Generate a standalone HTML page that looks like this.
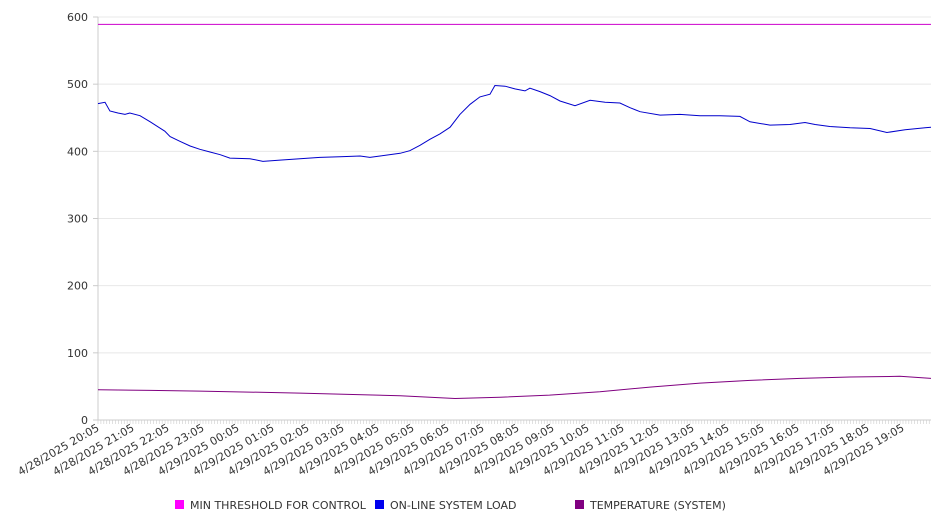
<!DOCTYPE html>
<html><head><meta charset="utf-8"><style>
body{margin:0;background:#fff;width:946px;height:526px;overflow:hidden;font-family:"DejaVu Sans","Liberation Sans",sans-serif;}
</style></head><body>
<svg id="chart" width="946" height="526" xmlns="http://www.w3.org/2000/svg" style="font-family:'DejaVu Sans','Liberation Sans',sans-serif"></svg>
<script>
const xTickLabels=["4/28/2025 20:05","4/28/2025 21:05","4/28/2025 22:05","4/28/2025 23:05","4/29/2025 00:05","4/29/2025 01:05","4/29/2025 02:05","4/29/2025 03:05","4/29/2025 04:05","4/29/2025 05:05","4/29/2025 06:05","4/29/2025 07:05","4/29/2025 08:05","4/29/2025 09:05","4/29/2025 10:05","4/29/2025 11:05","4/29/2025 12:05","4/29/2025 13:05","4/29/2025 14:05","4/29/2025 15:05","4/29/2025 16:05","4/29/2025 17:05","4/29/2025 18:05","4/29/2025 19:05"];
const yTicks=[0,100,200,300,400,500,600];
const thresholdHours=[0,23.8];
const thresholdValues=[589,589];
const loadHours=[0,0.2,0.34,0.57,0.77,0.91,1.2,1.49,1.91,2.06,2.34,2.63,2.91,3.2,3.49,3.77,4.34,4.71,5.2,5.77,6.34,6.91,7.49,7.77,8.06,8.63,8.91,9.2,9.49,9.77,10.06,10.34,10.63,10.91,11.2,11.34,11.63,11.91,12.2,12.34,12.63,12.91,13.2,13.63,14.06,14.49,14.91,15.2,15.49,16.06,16.63,17.2,17.77,18.34,18.63,19.2,19.77,20.2,20.49,20.91,21.49,22.06,22.54,23.06,23.63,23.8];
const loadValues=[471,473,460,457,455,457,453,444,430,422,415,408,403,399,395,390,389,385,387,389,391,392,393,391,393,397,401,409,418,426,436,455,470,481,485,498,497,493,490,494,489,483,475,468,476,473,472,465,459,454,455,453,453,452,444,439,440,443,440,437,435,434,428,432,435,436];
const tempHours=[0,1.5,2.91,5.77,8.63,10.2,11.49,12.9,14.34,15.77,17.2,18.63,20.06,21.49,22.91,23.8];
const tempValues=[45,44,43,40,36,32,34,37,42,49,55,59,62,64,65,62];

const svg=document.getElementById('chart');
const NS='http://www.w3.org/2000/svg';
const X0=98,X1=931,Y0=420,Y1=17,HMAX=23.8,VMAX=600;
const xs=h=>X0+(X1-X0)*h/HMAX;
const ys=v=>Y0-(Y0-Y1)*v/VMAX;
function mk(tag,attrs,parent){const e=document.createElementNS(NS,tag);for(const k in attrs)e.setAttribute(k,attrs[k]);(parent||svg).appendChild(e);return e;}

const grid=mk('g',{});


yTicks.forEach(v=>{
  if(v>0){const l=mk('line',{x1:X0,x2:X1,y1:ys(v),y2:ys(v),stroke:'#e8e8e8','stroke-width':1},grid);
  
  }
  const t=mk('line',{x1:X0-5,x2:X0,y1:ys(v),y2:ys(v),stroke:'#ccc'});
  
  
  const tx=mk('text',{x:X0-10,y:ys(v)+4,'text-anchor':'end','font-size':11,fill:'#333'});
  tx.textContent=v;
  
  
});
const yax=mk('line',{x1:X0,x2:X0,y1:Y1,y2:Y0,stroke:'#ccc'});


const xax=mk('line',{x1:X0,x2:X1,y1:Y0,y2:Y0,stroke:'#ccc'});


const minor=mk('g',{});


for(let h=0;h<=HMAX+1e-6;h+=5/60){mk('line',{x1:xs(h),x2:xs(h),y1:Y0,y2:Y0+4,stroke:'#ccc','stroke-width':0.6},minor);}
xTickLabels.forEach((s,i)=>{
  const x=xs(i)+2,y=Y0+10;
  const t=mk('text',{x:x,y:y,'text-anchor':'end','font-size':11,fill:'#333',transform:`rotate(-30 ${x} ${y})`});
  t.textContent=s;
  
  
});
function series(hours,vals,color,name){
  const d=hours.map((h,i)=>(i?'L':'M')+xs(h).toFixed(1)+','+ys(vals[i]).toFixed(1)).join('');
  const p=mk('path',{d:d,fill:'none',stroke:color,'stroke-width':1});
  
  
}
series(thresholdHours,thresholdValues,'#cc00cc','min-threshold-line');
series(loadHours,loadValues,'#0000cc','online-system-load-line');
series(tempHours,tempValues,'#800080','temperature-line');
const legend=[["MIN THRESHOLD FOR CONTROL","#ff00ff",175],["ON-LINE SYSTEM LOAD","#0000ee",375],["TEMPERATURE (SYSTEM)","#800080",575]];
legend.forEach(([n,c,x])=>{
  const g=mk('g',{});
  
  
  mk('rect',{x:x,y:500,width:9,height:9,fill:c},g);
  const t=mk('text',{x:x+15,y:509,'font-size':11,fill:'#333'},g);
  t.textContent=n;
});
</script>
</body></html>
